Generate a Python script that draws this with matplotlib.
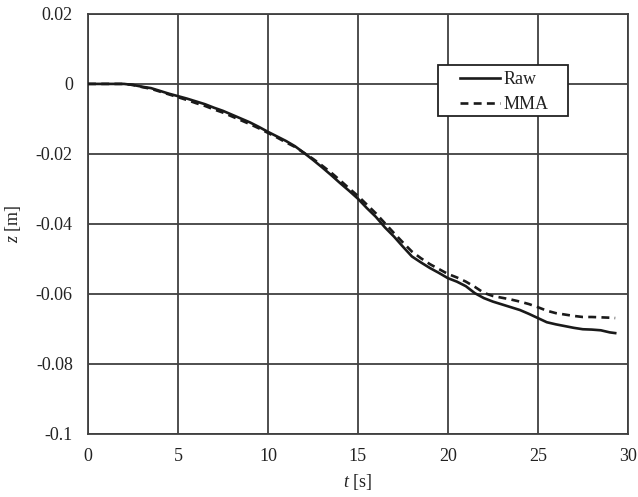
import matplotlib
matplotlib.use('Agg')
import matplotlib.pyplot as plt
from matplotlib.patches import Rectangle
from matplotlib.lines import Line2D

plt.rcParams['font.family'] = ['Liberation Serif', 'DejaVu Serif']
plt.rcParams['mathtext.fontset'] = 'custom'
plt.rcParams['mathtext.rm'] = 'Liberation Serif'
plt.rcParams['mathtext.it'] = 'Liberation Serif:italic'

# time [s]
t = [0, 0.5, 1, 1.5, 2, 2.5, 3, 3.5, 4, 4.5, 5, 5.5, 6, 6.5, 7, 7.5, 8, 8.5, 9, 9.5,
     10, 10.5, 11, 11.5, 12, 12.5, 13, 13.5, 14, 14.5, 15, 15.5, 16, 16.5, 17, 17.5,
     18, 18.5, 19, 19.5, 20, 20.5, 21, 21.5, 22, 22.5, 23, 23.5, 24, 24.5, 25, 25.5,
     26, 26.5, 27, 27.5, 28, 28.5, 29, 29.3]

z_raw = [0, 0, 0, 0, 0, -0.0003, -0.0008, -0.0012, -0.002, -0.0028, -0.0035, -0.0042,
         -0.005, -0.0058, -0.0068, -0.0077, -0.0088, -0.0099, -0.011, -0.0123,
         -0.0137, -0.015, -0.0163, -0.0178, -0.0197, -0.0217, -0.0238, -0.026,
         -0.0283, -0.0305, -0.0328, -0.0355, -0.038, -0.041, -0.0436, -0.0465,
         -0.0493, -0.051, -0.0526, -0.054, -0.0555, -0.0565, -0.0578, -0.0598,
         -0.0612, -0.0622, -0.063, -0.0638, -0.0646, -0.0657, -0.0669, -0.0681,
         -0.0687, -0.0692, -0.0697, -0.0701, -0.0702, -0.0704, -0.071, -0.0712]

z_mma = [0, 0, 0, 0, 0, -0.0003, -0.0009, -0.0014, -0.0022, -0.003, -0.0038, -0.0046,
         -0.0055, -0.0063, -0.0073, -0.0082, -0.0093, -0.0104, -0.0115, -0.0127,
         -0.014, -0.0153, -0.0167, -0.018, -0.0197, -0.0214, -0.0233, -0.0253,
         -0.0275, -0.0298, -0.032, -0.0345, -0.037, -0.0398, -0.0426, -0.0453,
         -0.0479, -0.0498, -0.0515, -0.0529, -0.0543, -0.0553, -0.0565, -0.058,
         -0.0597, -0.0606, -0.0611, -0.0616, -0.0622, -0.0629, -0.0638, -0.0648,
         -0.0655, -0.0659, -0.0663, -0.0666, -0.0666, -0.0667, -0.0668, -0.0669]

series_labels = ['Raw', 'MMA']

x_ticks = [0, 5, 10, 15, 20, 25, 30]
y_ticks = [0.02, 0, -0.02, -0.04, -0.06, -0.08, -0.1]
y_tick_labels = ['0.02', '0', '-0.02', '-0.04', '-0.06', '-0.08', '-0.1']

grid_color = '#404040'
line_color = '#1a1a1a'

fig = plt.figure(figsize=(6.38, 4.97), dpi=100)
ax = fig.add_axes([0.138, 0.127, 0.846, 0.845])

ax.plot(t, z_raw, '-', color=line_color, linewidth=1.9, zorder=3)
ax.plot(t, z_mma, '--', color=line_color, linewidth=1.9, zorder=3, dashes=(3, 2))

ax.set_xlim(0, 30)
ax.set_ylim(-0.1, 0.02)
ax.set_xticks(x_ticks)
ax.set_xticklabels([str(v) for v in x_ticks])
ax.set_yticks(y_ticks)
ax.set_yticklabels(y_tick_labels)
ax.tick_params(length=0, labelsize=13, colors='#222222')
ax.tick_params(axis='x', pad=10)
ax.tick_params(axis='y', pad=11)
ax.grid(True, color=grid_color, linewidth=1.3)
for s in ax.spines.values():
    s.set_color(grid_color)
    s.set_linewidth(1.3)

ax.set_xlabel(r'$t$ [s]', fontsize=13, labelpad=5, color='#222222')
ax.set_ylabel(r'$z$ [m]', fontsize=13, labelpad=9, color='#222222')

# legend box drawn by hand so its padding matches the original
T = ax.transAxes
ax.add_patch(Rectangle((0.6481, 0.7571), 0.2408, 0.1215, transform=T,
                       facecolor='white', edgecolor='#222222', linewidth=1.3,
                       zorder=5))
legend_rows = [(0.8476, '-', None), (0.7881, '--', (3, 2))]
for (yy, ls, dsh), lab in zip(legend_rows, series_labels):
    ln = Line2D([0.6889, 0.7630], [yy, yy], transform=T, color=line_color,
                linewidth=1.9, linestyle=ls, zorder=6)
    if dsh:
        ln.set_dashes(dsh)
    ax.add_line(ln)
    ax.text(0.7704, yy, lab, transform=T, fontsize=13, va='center_baseline',
            ha='left', color='#222222', zorder=6)

fig.savefig('out.png', dpi=100)
